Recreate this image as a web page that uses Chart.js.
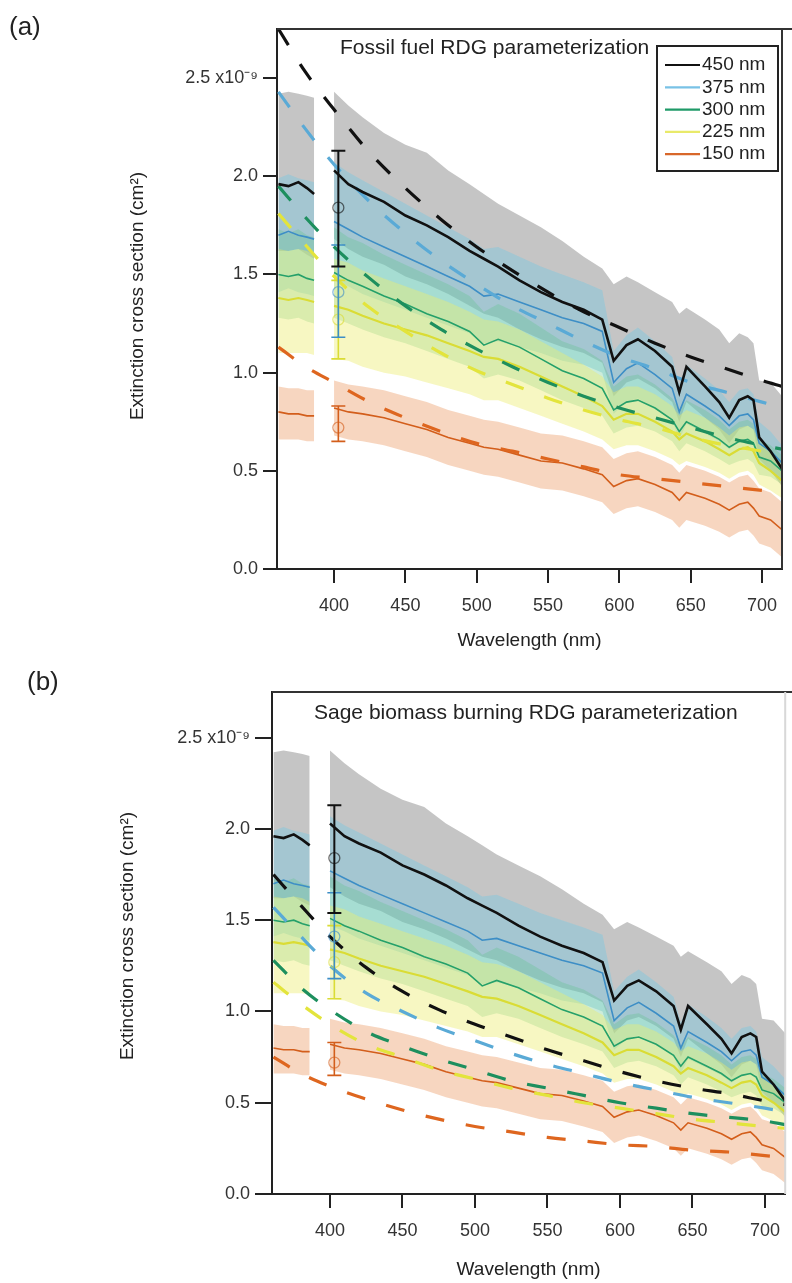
<!DOCTYPE html>
<html>
<head>
<meta charset="utf-8">
<script src="https://cdn.jsdelivr.net/npm/chart.js"></script>
<style>
body { margin: 0; background: #fff; }
.panel { position: absolute; left: 0; width: 792px; }
</style>
</head>
<body>
<div class="panel" style="top:0;height:655px"><canvas id="chartA"></canvas></div>
<div class="panel" style="top:655px;height:628px"><canvas id="chartB"></canvas></div>
<script>
// measured extinction cross sections (x 1e-9 cm^2); null = no data between the two spectrometers
var wl = [361, 368, 375, 381, 386, 393, 400, 410, 420, 435, 450, 465, 480, 495, 505, 515, 530, 545, 560, 575, 588, 596, 605, 613, 625, 637, 642, 647, 660, 670, 677, 684, 690, 694, 698, 706, 714];

var mid450 = [1.96, 1.95, 1.97, 1.94, 1.91, null, 2.03, 1.96, 1.92, 1.87, 1.80, 1.75, 1.69, 1.62, 1.58, 1.54, 1.47, 1.41, 1.36, 1.32, 1.27, 1.06, 1.14, 1.17, 1.11, 1.03, 0.90, 1.03, 0.93, 0.85, 0.77, 0.86, 0.88, 0.86, 0.67, 0.60, 0.51];
var hi450 = [2.42, 2.43, 2.42, 2.41, 2.40, null, 2.43, 2.36, 2.30, 2.22, 2.16, 2.12, 2.03, 1.96, 1.91, 1.86, 1.80, 1.74, 1.67, 1.59, 1.53, 1.45, 1.49, 1.46, 1.41, 1.36, 1.30, 1.33, 1.27, 1.22, 1.15, 1.20, 1.18, 1.15, 0.96, 0.95, 0.88];
var lo450 = [1.62, 1.62, 1.63, 1.60, 1.58, null, 1.68, 1.63, 1.59, 1.55, 1.49, 1.45, 1.40, 1.34, 1.30, 1.28, 1.22, 1.17, 1.13, 1.10, 1.05, 0.88, 0.95, 0.97, 0.92, 0.85, 0.75, 0.85, 0.77, 0.71, 0.64, 0.71, 0.73, 0.71, 0.56, 0.50, 0.42];

var mid375 = [1.70, 1.72, 1.70, 1.69, 1.68, null, 1.77, 1.73, 1.69, 1.64, 1.59, 1.54, 1.49, 1.44, 1.39, 1.40, 1.36, 1.32, 1.28, 1.25, 1.21, 0.95, 1.02, 1.05, 0.99, 0.92, 0.80, 0.89, 0.83, 0.78, 0.73, 0.78, 0.79, 0.76, 0.64, 0.60, 0.54];
var hi375 = [1.99, 2.01, 1.99, 1.98, 1.97, null, 2.07, 2.02, 1.98, 1.92, 1.86, 1.80, 1.74, 1.68, 1.63, 1.64, 1.59, 1.54, 1.50, 1.46, 1.42, 1.11, 1.19, 1.23, 1.16, 1.08, 0.94, 1.04, 0.97, 0.91, 0.85, 0.91, 0.92, 0.89, 0.75, 0.70, 0.63];
var lo375 = [1.41, 1.43, 1.41, 1.40, 1.39, null, 1.47, 1.44, 1.40, 1.36, 1.32, 1.28, 1.24, 1.20, 1.15, 1.16, 1.13, 1.10, 1.06, 1.04, 1.00, 0.79, 0.85, 0.87, 0.82, 0.76, 0.66, 0.74, 0.69, 0.65, 0.61, 0.65, 0.66, 0.63, 0.53, 0.50, 0.45];

var mid300 = [1.50, 1.49, 1.50, 1.48, 1.47, null, 1.51, 1.47, 1.44, 1.39, 1.35, 1.30, 1.26, 1.21, 1.14, 1.17, 1.13, 1.07, 1.01, 0.97, 0.92, 0.81, 0.85, 0.86, 0.82, 0.76, 0.70, 0.75, 0.70, 0.66, 0.62, 0.65, 0.66, 0.64, 0.57, 0.55, 0.50];
var hi300 = [1.73, 1.71, 1.73, 1.70, 1.69, null, 1.74, 1.69, 1.66, 1.60, 1.55, 1.50, 1.45, 1.39, 1.31, 1.35, 1.30, 1.23, 1.16, 1.12, 1.06, 0.93, 0.98, 0.99, 0.94, 0.87, 0.81, 0.86, 0.81, 0.76, 0.71, 0.75, 0.76, 0.74, 0.66, 0.63, 0.58];
var lo300 = [1.28, 1.27, 1.28, 1.26, 1.25, null, 1.28, 1.25, 1.22, 1.18, 1.15, 1.11, 1.07, 1.03, 0.97, 0.99, 0.96, 0.91, 0.86, 0.82, 0.78, 0.69, 0.72, 0.73, 0.70, 0.65, 0.60, 0.64, 0.60, 0.56, 0.53, 0.55, 0.56, 0.54, 0.48, 0.47, 0.43];

var mid225 = [1.38, 1.37, 1.38, 1.37, 1.36, null, 1.34, 1.32, 1.29, 1.25, 1.22, 1.19, 1.15, 1.11, 1.08, 1.07, 1.03, 0.98, 0.93, 0.88, 0.83, 0.76, 0.79, 0.79, 0.75, 0.70, 0.66, 0.69, 0.65, 0.61, 0.58, 0.61, 0.62, 0.60, 0.54, 0.50, 0.45];
var hi225 = [1.63, 1.62, 1.63, 1.62, 1.60, null, 1.58, 1.56, 1.52, 1.48, 1.44, 1.40, 1.36, 1.31, 1.27, 1.26, 1.22, 1.16, 1.10, 1.04, 0.98, 0.90, 0.93, 0.93, 0.89, 0.83, 0.78, 0.81, 0.77, 0.72, 0.68, 0.72, 0.73, 0.71, 0.64, 0.59, 0.53];
var lo225 = [1.10, 1.10, 1.10, 1.10, 1.09, null, 1.07, 1.06, 1.03, 1.00, 0.98, 0.95, 0.92, 0.89, 0.86, 0.86, 0.82, 0.78, 0.74, 0.70, 0.66, 0.61, 0.63, 0.63, 0.60, 0.56, 0.53, 0.55, 0.52, 0.49, 0.46, 0.49, 0.50, 0.48, 0.43, 0.40, 0.36];

var mid150 = [0.80, 0.79, 0.79, 0.78, 0.78, null, 0.82, 0.80, 0.79, 0.77, 0.74, 0.71, 0.67, 0.64, 0.62, 0.61, 0.58, 0.55, 0.54, 0.51, 0.48, 0.42, 0.45, 0.46, 0.43, 0.39, 0.35, 0.39, 0.36, 0.33, 0.30, 0.33, 0.34, 0.31, 0.27, 0.25, 0.20];
var hi150 = [0.93, 0.92, 0.92, 0.91, 0.91, null, 0.96, 0.94, 0.93, 0.91, 0.88, 0.85, 0.81, 0.78, 0.76, 0.75, 0.72, 0.69, 0.68, 0.65, 0.62, 0.56, 0.59, 0.60, 0.57, 0.53, 0.49, 0.53, 0.50, 0.47, 0.44, 0.47, 0.48, 0.45, 0.41, 0.39, 0.34];
var lo150 = [0.66, 0.66, 0.66, 0.65, 0.65, null, 0.68, 0.66, 0.65, 0.63, 0.60, 0.57, 0.53, 0.50, 0.48, 0.47, 0.44, 0.41, 0.40, 0.37, 0.34, 0.28, 0.31, 0.32, 0.29, 0.25, 0.21, 0.25, 0.22, 0.19, 0.16, 0.19, 0.20, 0.17, 0.13, 0.11, 0.06];

// RDG parameterizations (dashed)
var rdgWl = [361, 380, 400, 425, 450, 475, 500, 525, 550, 575, 600, 625, 650, 675, 700, 714];
var fossil450 = [2.75, 2.53, 2.34, 2.12, 1.94, 1.78, 1.64, 1.52, 1.41, 1.31, 1.23, 1.15, 1.08, 1.02, 0.96, 0.93];
var fossil375 = [2.43, 2.24, 2.06, 1.87, 1.71, 1.57, 1.45, 1.34, 1.25, 1.16, 1.08, 1.02, 0.95, 0.90, 0.85, 0.82];
var fossil300 = [1.95, 1.79, 1.64, 1.48, 1.34, 1.22, 1.12, 1.03, 0.95, 0.88, 0.82, 0.77, 0.72, 0.67, 0.63, 0.61];
var fossil225 = [1.81, 1.65, 1.49, 1.33, 1.21, 1.10, 1.01, 0.94, 0.87, 0.81, 0.76, 0.72, 0.67, 0.63, 0.60, 0.58];
var fossil150 = [1.13, 1.03, 0.95, 0.85, 0.77, 0.70, 0.64, 0.60, 0.56, 0.52, 0.48, 0.46, 0.44, 0.42, 0.40, 0.39];

var sage450 = [1.75, 1.58, 1.41, 1.24, 1.11, 1.01, 0.93, 0.86, 0.79, 0.73, 0.67, 0.62, 0.58, 0.55, 0.51, 0.49];
var sage375 = [1.57, 1.41, 1.25, 1.10, 1.00, 0.91, 0.84, 0.77, 0.71, 0.66, 0.61, 0.57, 0.53, 0.50, 0.47, 0.45];
var sage300 = [1.28, 1.13, 1.01, 0.89, 0.81, 0.74, 0.68, 0.62, 0.58, 0.54, 0.50, 0.47, 0.44, 0.42, 0.40, 0.38];
var sage225 = [1.16, 1.04, 0.93, 0.82, 0.75, 0.68, 0.63, 0.58, 0.54, 0.50, 0.47, 0.44, 0.41, 0.39, 0.37, 0.36];
var sage150 = [0.75, 0.66, 0.59, 0.52, 0.46, 0.41, 0.37, 0.34, 0.31, 0.29, 0.27, 0.26, 0.24, 0.23, 0.21, 0.20];

// single-wavelength measurements at 403 nm with error bars (450, 375, 225, 150 nm)
var errWl = 403;
var errSize = [0, 1, 3, 4];
var errMid = [1.84, 1.41, 1.27, 0.72];
var errLo = [1.54, 1.18, 1.07, 0.65];
var errHi = [2.13, 1.65, 1.47, 0.83];

var sizes = ['450 nm', '375 nm', '300 nm', '225 nm', '150 nm'];
var xTicks = [400, 450, 500, 550, 600, 650, 700];
var yTicks = [0, 0.5, 1.0, 1.5, 2.0, 2.5];

var lineColors = ['#111111', '#3d8ec6', '#25a06a', '#dadc35', '#d35e1b'];
var dashColors = ['#111111', '#5aaad6', '#1d8f5e', '#e3e43c', '#de661f'];
var legendColors = ['#111111', '#79c2e6', '#1f9a68', '#e9ea6a', '#d8672a'];
var bandColors = ['rgba(150,150,150,0.55)', 'rgba(115,200,228,0.40)', 'rgba(95,195,140,0.32)', 'rgba(235,235,110,0.42)', 'rgba(238,165,115,0.45)'];
var lineWidths = [2.6, 1.6, 1.6, 2.2, 1.6];

var font = '"Liberation Sans", Arial, sans-serif';
Chart.defaults.font.family = font;

function pts(xs, ys) {
    return xs.map(function (x, i) { return { x: x, y: ys[i] }; });
}

function buildDatasets(rdg) {
    var mids = [mid450, mid375, mid300, mid225, mid150];
    var his = [hi450, hi375, hi300, hi225, hi150];
    var los = [lo450, lo375, lo300, lo225, lo150];
    var ds = [];
    ds.push({ data: pts(wl, mid450), borderColor: lineColors[0], borderWidth: lineWidths[0], fill: false });
    for (var i = 0; i < 5; i++) {
        ds.push({ data: pts(rdgWl, rdg[i]), borderColor: dashColors[i], borderWidth: 3.2,
            borderDash: [19, 22], cubicInterpolationMode: 'monotone', fill: false });
    }
    for (var j = 1; j < 5; j++) {
        ds.push({ data: pts(wl, mids[j]), borderColor: lineColors[j], borderWidth: lineWidths[j], fill: false });
    }
    for (var k = 4; k >= 0; k--) {
        ds.push({ data: pts(wl, his[k]), borderWidth: 0, borderColor: 'rgba(0,0,0,0)', backgroundColor: bandColors[k], fill: '+1' });
        ds.push({ data: pts(wl, los[k]), borderWidth: 0, borderColor: 'rgba(0,0,0,0)', fill: false });
    }
    return ds;
}

var decor = {
    id: 'decor',
    afterDatasetsDraw: function (chart) {
        var ctx = chart.ctx, xs = chart.scales.x, ys = chart.scales.y;
        var ex = xs.getPixelForValue(errWl);
        ctx.save();
        [2, 1, 3, 0].forEach(function (k) {
            var c = lineColors[errSize[k]];
            var yl = ys.getPixelForValue(errLo[k]), yh = ys.getPixelForValue(errHi[k]), ym = ys.getPixelForValue(errMid[k]);
            ctx.strokeStyle = c;
            ctx.lineWidth = k === 0 ? 2 : 1.6;
            ctx.beginPath();
            ctx.moveTo(ex, yl); ctx.lineTo(ex, yh);
            ctx.moveTo(ex - 7, yl); ctx.lineTo(ex + 7, yl);
            ctx.moveTo(ex - 7, yh); ctx.lineTo(ex + 7, yh);
            ctx.stroke();
            ctx.globalAlpha = 0.6;
            ctx.lineWidth = 1.3;
            ctx.beginPath();
            ctx.arc(ex, ym, 5.5, 0, Math.PI * 2);
            ctx.stroke();
            ctx.globalAlpha = 1;
        });
        ctx.restore();
    },
    afterDraw: function (chart, args, o) {
        var ctx = chart.ctx, a = chart.chartArea;
        ctx.save();
        // frame: top and right
        ctx.strokeStyle = '#333';
        ctx.lineWidth = 2;
        ctx.beginPath();
        ctx.moveTo(a.left, a.top); ctx.lineTo(a.right + 10, a.top);
        ctx.stroke();
        ctx.strokeStyle = o.rightColor;
        ctx.beginPath();
        ctx.moveTo(a.right, a.top); ctx.lineTo(a.right, a.bottom);
        ctx.stroke();

        ctx.fillStyle = '#222';
        ctx.textBaseline = 'middle';
        ctx.textAlign = 'left';
        ctx.font = '21px ' + font;
        ctx.fillText(o.title, o.titleX, o.titleY);
        ctx.font = '26px ' + font;
        ctx.fillText(o.letter, o.letterX, o.letterY);

        ctx.textAlign = 'center';
        ctx.font = '19px ' + font;
        ctx.fillText('Wavelength (nm)', (a.left + a.right) / 2, o.xTitleY);
        ctx.save();
        ctx.translate(o.yTitleX, o.yTitleY);
        ctx.rotate(-Math.PI / 2);
        ctx.fillText('Extinction cross section (cm\u00B2)', 0, 0);
        ctx.restore();

        if (o.legend) {
            ctx.strokeStyle = '#222';
            ctx.lineWidth = 2;
            ctx.strokeRect(657, 46, 121, 125);
            ctx.textAlign = 'left';
            ctx.font = '19px ' + font;
            sizes.forEach(function (s, i) {
                var y = 65 + i * 22.3;
                ctx.strokeStyle = legendColors[i];
                ctx.lineWidth = 2.2;
                ctx.beginPath();
                ctx.moveTo(665, y); ctx.lineTo(700, y);
                ctx.stroke();
                ctx.fillStyle = '#222';
                ctx.fillText(s, 702, y);
            });
        }
        ctx.restore();
    }
};

function makeChart(id, rdg, p) {
    return new Chart(document.getElementById(id), {
        type: 'line',
        data: { datasets: buildDatasets(rdg) },
        options: {
            responsive: true,
            maintainAspectRatio: false,
            animation: false,
            layout: { padding: { top: p.top, right: p.right, left: 0, bottom: 0 } },
            elements: { point: { radius: 0 }, line: { tension: 0 } },
            plugins: {
                legend: { display: false },
                tooltip: { enabled: false },
                filler: { drawTime: 'beforeDatasetsDraw' },
                decor: p
            },
            scales: {
                x: {
                    type: 'linear',
                    min: 360,
                    max: 714,
                    afterBuildTicks: function (s) { s.ticks = xTicks.map(function (v) { return { value: v }; }); },
                    afterFit: function (s) { s.height = p.xAxisH; },
                    border: { display: true, color: '#222', width: 2 },
                    grid: { drawOnChartArea: false, drawTicks: true, tickLength: 14, color: '#222', lineWidth: 2 },
                    ticks: { color: '#333', font: { size: 18 }, padding: 12, maxRotation: 0 }
                },
                y: {
                    min: 0,
                    max: 2.75,
                    afterBuildTicks: function (s) { s.ticks = yTicks.map(function (v) { return { value: v }; }); },
                    afterFit: function (s) { s.width = p.axisW; },
                    border: { display: true, color: '#222', width: 2 },
                    grid: { drawOnChartArea: false, drawTicks: true, tickLength: p.tickLenY, color: '#222', lineWidth: 2 },
                    ticks: {
                        color: '#333', font: { size: 18 }, padding: 5,
                        callback: function (v) { return v === 2.5 ? '2.5 x10\u207B\u2079' : v.toFixed(1); }
                    }
                }
            }
        },
        plugins: [decor]
    });
}

makeChart('chartA', [fossil450, fossil375, fossil300, fossil225, fossil150], {
    top: 29, right: 10, axisW: 277, xAxisH: 86, tickLenY: 14, rightColor: '#333',
    title: 'Fossil fuel RDG parameterization', titleX: 340, titleY: 48,
    letter: '(a)', letterX: 9, letterY: 28,
    yTitleX: 138, yTitleY: 296, xTitleY: 641, legend: true
});

makeChart('chartB', [sage450, sage375, sage300, sage225, sage150], {
    top: 37, right: 2, axisW: 272, xAxisH: 89, tickLenY: 17, rightColor: '#d8d8d8',
    title: 'Sage biomass burning RDG parameterization', titleX: 314, titleY: 58,
    letter: '(b)', letterX: 27, letterY: 28,
    yTitleX: 128, yTitleY: 281, xTitleY: 615, legend: false
});
</script>
</body>
</html>
